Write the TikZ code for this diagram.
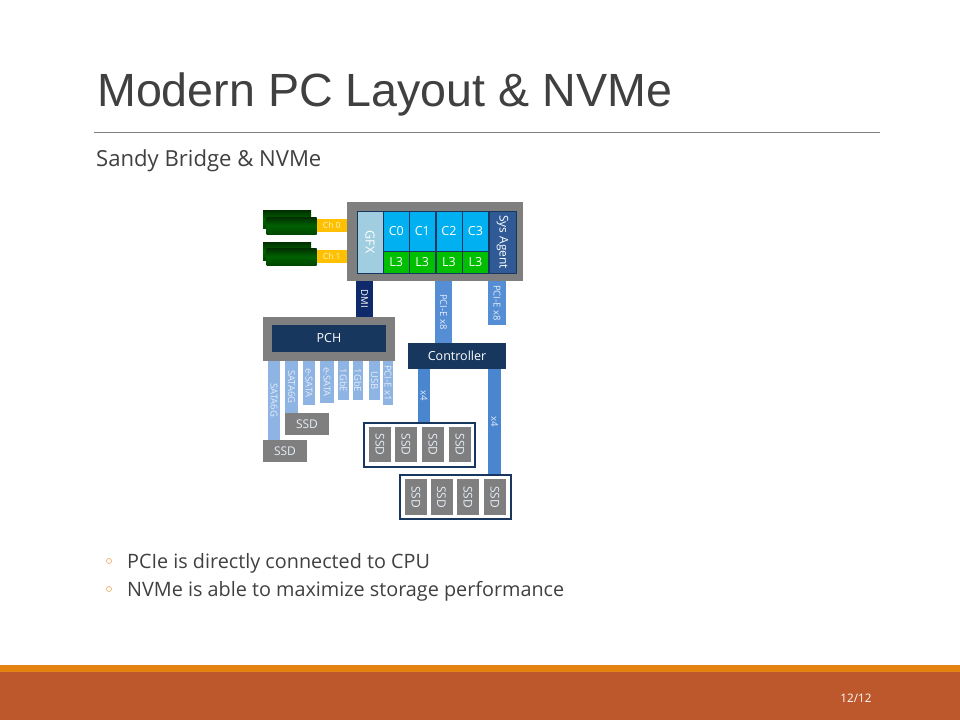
\documentclass[tikz,border=0pt]{standalone}
\usepackage{fontspec}
\setmainfont{Open Sans}
\newfontfamily\titlefont{Liberation Sans}
\definecolor{inktext}{HTML}{404040}
\definecolor{greybox}{HTML}{7F7F7F}
\definecolor{navybox}{HTML}{17375E}
\definecolor{dminavy}{HTML}{0F2A6A}
\definecolor{midbus}{HTML}{558ED5}
\definecolor{deepbus}{HTML}{4A86D0}
\definecolor{palebus}{HTML}{8EB4E3}
\definecolor{paletext}{HTML}{E6EEF8}
\definecolor{gfxblue}{HTML}{A0CDDF}
\definecolor{coreblue}{HTML}{00B0F0}
\definecolor{cachegreen}{HTML}{00BE00}
\definecolor{agentblue}{HTML}{2F5A96}
\definecolor{chanyellow}{HTML}{FFC000}
\definecolor{chantext}{HTML}{FFF3CC}
\definecolor{stripeorange}{HTML}{E48312}
\definecolor{footerrust}{HTML}{BD582C}
\tikzset{
  block/.style={inner sep=0pt,outer sep=0pt,text=white,font=\fontsize{12.5}{14}\selectfont},
  greyblock/.style={block,fill=greybox},
  navyblock/.style={block,fill=navybox},
  cell/.style={block,draw=navybox,line width=0.6pt},
  ssd/.style={greyblock,text=paletext,font=\fontsize{12}{14}\selectfont},
  dimm/.style={block,top color=black!70!green!60!black,bottom color=black!60!green!70!black,middle color=green!38!black},
  bus/.style={line cap=butt},
  buslabel/.style={inner sep=0pt,text=paletext,rotate=-90,font=\fontsize{9.5}{11}\selectfont},
  chanlabel/.style={inner sep=0pt,text=chantext,font=\fontsize{8.5}{10}\selectfont},
  plaintext/.style={inner sep=0pt,anchor=base west,text=inktext},
}
\begin{document}
\begin{tikzpicture}[x=1pt,y=-1pt]
  \useasboundingbox (0,0) rectangle (960,720);

  % --------------------------------------------------------- %
  % ------------- slide frame
  % --------------------------------------------------------- %
  \fill[white] (0,0) rectangle (960,720);
  \fill[stripeorange] (0,665) rectangle (960,672);
  \fill[footerrust] (0,672) rectangle (960,720);
  \draw[greybox,line width=0.8pt] (94,132) -- (880,132);
  \node[plaintext,font=\titlefont\fontsize{46.6}{50}\selectfont] (title) at (97,106.5) {Modern PC Layout \& NVMe};
  \node[plaintext,font=\fontsize{22.1}{26}\selectfont] (subtitle) at (96,166) {Sandy Bridge \& NVMe};
  \node[inner sep=0pt,text=white,font=\fontsize{11.7}{14}\selectfont] (pagenum) at (856,698) {12/12};

  % --------------------------------------------------------- %
  % ------------- CPU
  % --------------------------------------------------------- %
  \node[greyblock,minimum width=176pt,minimum height=79pt] (cpu) at (435,241.5) {};
  \node[cell,fill=gfxblue,minimum width=26pt,minimum height=62pt] (gfx) at (370,242) {\rotatebox{-90}{GFX}};
  \foreach \i/\x in {0/396.3,1/422.3,2/449,3/475.5} {
    \node[cell,fill=coreblue,minimum width=26pt,minimum height=40pt] (core\i) at (\x,231) {C\i};
    \node[cell,fill=cachegreen,minimum width=26pt,minimum height=22pt] (cache\i) at (\x,262) {L3};
  }
  \node[cell,fill=agentblue,minimum width=27pt,minimum height=62pt,font=\fontsize{12}{14}\selectfont] (agent) at (502.5,242) {\rotatebox{-90}{Sys Agent}};

  % --------------------------------------------------------- %
  % ------------- Memory channels
  % --------------------------------------------------------- %
  \node[dimm,minimum width=48pt,minimum height=18pt] (dimm0b) at (287,219) {};
  \node[dimm,minimum width=50pt,minimum height=17pt] (dimm0f) at (291.5,225.5) {};
  \node[dimm,minimum width=48pt,minimum height=18pt] (dimm1b) at (287,251) {};
  \node[dimm,minimum width=50pt,minimum height=17pt] (dimm1f) at (291.5,256.5) {};
  \draw[bus,chanyellow,line width=13pt] (dimm0f.east) -- node[chanlabel] (ch0) {Ch 0} (dimm0f.east -| cpu.west);
  \draw[bus,chanyellow,line width=13pt] (dimm1f.east) -- node[chanlabel] (ch1) {Ch 1} (dimm1f.east -| cpu.west);

  % --------------------------------------------------------- %
  % ------------- PCH and its ports
  % --------------------------------------------------------- %
  \node[greyblock,minimum width=132pt,minimum height=44pt] (pch) at (329,339) {};
  \node[navyblock,minimum width=114pt,minimum height=27pt] (pchname) at (329,338.5) {PCH};
  \draw[bus,dminavy,line width=17pt] (364.5,281) -- node[buslabel,text=white] (dmi) {DMI} (364.5,317);

  \node[ssd,minimum width=44pt,minimum height=22pt] (ssdb) at (307,424) {SSD};
  \node[ssd,minimum width=44pt,minimum height=22pt] (ssda) at (285,451) {SSD};
  \draw[bus,palebus,line width=12pt] (274,361) -- node[buslabel] (sata0) {SATA6G} (274,440);
  \draw[bus,palebus,line width=13pt] (291.5,361) -- node[buslabel] (sata1) {SATA6G} (291.5,413);
  \coordinate (esata0end) at (309,405);
  \coordinate (esata1end) at (327,403);
  \coordinate (gbe0end) at (343.5,400);
  \coordinate (gbe1end) at (358,400);
  \coordinate (usbend) at (374.5,400);
  \coordinate (pcie1end) at (388,405);
  \draw[bus,palebus,line width=12pt] (esata0end |- pch.south) -- node[buslabel] (esata0) {e-SATA} (esata0end);
  \draw[bus,palebus,line width=14pt] (esata1end |- pch.south) -- node[buslabel] (esata1) {e-SATA} (esata1end);
  \draw[bus,palebus,line width=11pt] (gbe0end |- pch.south) -- node[buslabel] (gbe0) {1GbE} (gbe0end);
  \draw[bus,palebus,line width=10pt] (gbe1end |- pch.south) -- node[buslabel] (gbe1) {1GbE} (gbe1end);
  \draw[bus,palebus,line width=11pt] (usbend |- pch.south) -- node[buslabel] (usb) {USB} (usbend);
  \draw[bus,palebus,line width=10pt] (pcie1end |- pch.south) -- node[buslabel] (pcie1) {PCI-E x1} (pcie1end);

  % --------------------------------------------------------- %
  % ------------- Controller and SSD groups
  % --------------------------------------------------------- %
  \node[navyblock,minimum width=98pt,minimum height=26pt] (ctrl) at (457,356) {Controller};
  \draw[bus,midbus,line width=17pt] (443.5,281) -- node[buslabel] (pcie8a) {PCI-E x8} (443.5,343);
  \coordinate (pcie8end) at (497,325);
  \draw[bus,midbus,line width=18pt] (pcie8end |- cpu.south) -- node[buslabel] (pcie8b) {PCI-E x8} (pcie8end);

  \node[draw=navybox,fill=white,line width=2.5pt,inner sep=0pt,minimum width=111pt,minimum height=44pt] (group0) at (419.5,445) {};
  \node[draw=navybox,fill=white,line width=2.5pt,inner sep=0pt,minimum width=111pt,minimum height=44pt] (group1) at (455.5,497) {};
  \foreach \i/\x in {0/380,1/406,2/433,3/460} {
    \node[ssd,minimum width=22pt,minimum height=35pt] (ssdx\i) at (\x,444.5) {\rotatebox{-90}{SSD}};
  }
  \foreach \i/\x in {0/416,1/441.5,2/468,3/495} {
    \node[ssd,minimum width=22pt,minimum height=36pt] (ssdy\i) at (\x,497) {\rotatebox{-90}{SSD}};
  }
  \draw[bus,deepbus,line width=12pt] (424,369) -- node[buslabel] (xfour0) {x4} (424,422);
  \draw[bus,deepbus,line width=13pt] (494.5,369) -- node[buslabel] (xfour1) {x4} (494.5,473.5);

  % --------------------------------------------------------- %
  % ------------- Bullets
  % --------------------------------------------------------- %
  \node[circle,draw=stripeorange!70,line width=0.6pt,inner sep=0pt,minimum size=5pt] (dot0) at (109,561) {};
  \node[circle,draw=stripeorange!70,line width=0.6pt,inner sep=0pt,minimum size=5pt] (dot1) at (109,589) {};
  \node[plaintext,font=\fontsize{19.8}{25}\selectfont] (point0) at (127,568) {PCIe is directly connected to CPU};
  \node[plaintext,font=\fontsize{19.8}{25}\selectfont] (point1) at (127,596) {NVMe is able to maximize storage performance};
\end{tikzpicture}
\end{document}
